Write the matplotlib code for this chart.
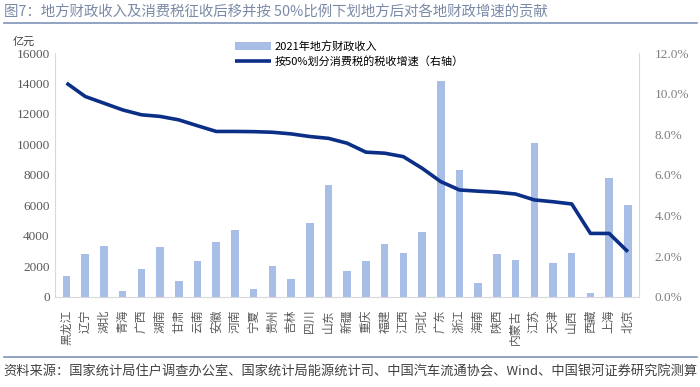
import matplotlib.pyplot as plt
from matplotlib.lines import Line2D
from matplotlib.ticker import FuncFormatter

plt.rcParams['font.family'] = ['Noto Sans CJK SC', 'DejaVu Sans']

# 省份
provinces = ['黑龙江', '辽宁', '湖北', '青海', '广西', '湖南', '甘肃', '云南', '安徽', '河南',
             '宁夏', '贵州', '吉林', '四川', '山东', '新疆', '重庆', '福建', '江西', '河北',
             '广东', '浙江', '海南', '陕西', '内蒙古', '江苏', '天津', '山西', '西藏', '上海', '北京']

# 2021年地方财政收入（亿元）
revenue = [1360, 2830, 3330, 370, 1840, 3290, 1070, 2340, 3570, 4400,
           530, 2020, 1180, 4820, 7340, 1690, 2340, 3460, 2850, 4230,
           14180, 8330, 940, 2800, 2410, 10080, 2190, 2890, 220, 7820, 6030]

# 按50%划分消费税的税收增速（%，右轴）
growth = [10.52, 9.86, 9.53, 9.2, 8.96, 8.88, 8.71, 8.42, 8.14, 8.14,
          8.13, 8.1, 8.02, 7.89, 7.8, 7.56, 7.12, 7.07, 6.9, 6.33,
          5.67, 5.26, 5.2, 5.15, 5.06, 4.77, 4.68, 4.57, 3.12, 3.12, 2.22]

bar_color = '#A9BEE6'
line_color = '#0B2F86'
tick_color = '#595959'

fig = plt.figure(figsize=(7, 3.87), dpi=100)
ax = fig.add_axes([0.079, 0.233, 0.834, 0.63])
x = range(len(provinces))
ax.bar(x, revenue, width=0.4, color=bar_color, label='2021年地方财政收入')
ax.set_ylim(0, 16000)
ax.set_yticks(range(0, 16001, 2000))
ax.set_xlim(-0.6, len(provinces) - 0.4)
ax.set_xticks(list(x))
ax.set_xticklabels(provinces, rotation=90, fontsize=8.5, color=tick_color)
ax.tick_params(axis='y', labelsize=9.5, labelcolor=tick_color, length=0, pad=4,
               labelfontfamily='Liberation Serif')
ax.tick_params(axis='x', length=0, pad=9)
for s in ['top', 'right']:
    ax.spines[s].set_visible(False)
ax.spines['left'].set_color('#D9D9D9')
ax.spines['bottom'].set_color('#D9D9D9')

ax2 = ax.twinx()
ax2.plot(x, growth, color=line_color, lw=2.6, solid_capstyle='butt',
         label='按50%划分消费税的税收增速（右轴）')
ax2.set_ylim(0, 12)
ax2.set_yticks(range(0, 13, 2))
ax2.yaxis.set_major_formatter(FuncFormatter(lambda v, p: f'{v:.1f}%'))
ax2.tick_params(axis='y', labelsize=9.5, labelcolor='#7F7F7F', length=0, pad=11,
                labelfontfamily='Liberation Serif')
for s in ['top', 'left', 'bottom']:
    ax2.spines[s].set_visible(False)
ax2.spines['right'].set_color('#D9D9D9')

h1, l1 = ax.get_legend_handles_labels()
h2, l2 = ax2.get_legend_handles_labels()
fig.legend(h1 + h2, l1 + l2, loc='upper left', bbox_to_anchor=(0.33, 0.905),
           frameon=False, fontsize=8, handlelength=3.2, handletextpad=0.3,
           labelspacing=0.3, borderaxespad=0)

fig.text(0.018, 0.885, '亿元', fontsize=8, color='#404040')

fig.text(0.005, 0.968, '图7：地方财政收入及消费税征收后移并按 50%比例下划地方后对各地财政增速的贡献',
         fontsize=10.4, color='#7A8AA6', va='center')
fig.add_artist(Line2D([0.005, 0.995], [0.94, 0.94], color='#7F93B8', lw=1.2))
fig.add_artist(Line2D([0.005, 0.995], [0.077, 0.077], color='#7F93B8', lw=1.2))
fig.text(0.005, 0.04, '资料来源：国家统计局住户调查办公室、国家统计局能源统计司、中国汽车流通协会、Wind、中国银河证券研究院测算',
         fontsize=9.5, color='#404040', va='center')

fig.savefig('out.png', dpi=100)
